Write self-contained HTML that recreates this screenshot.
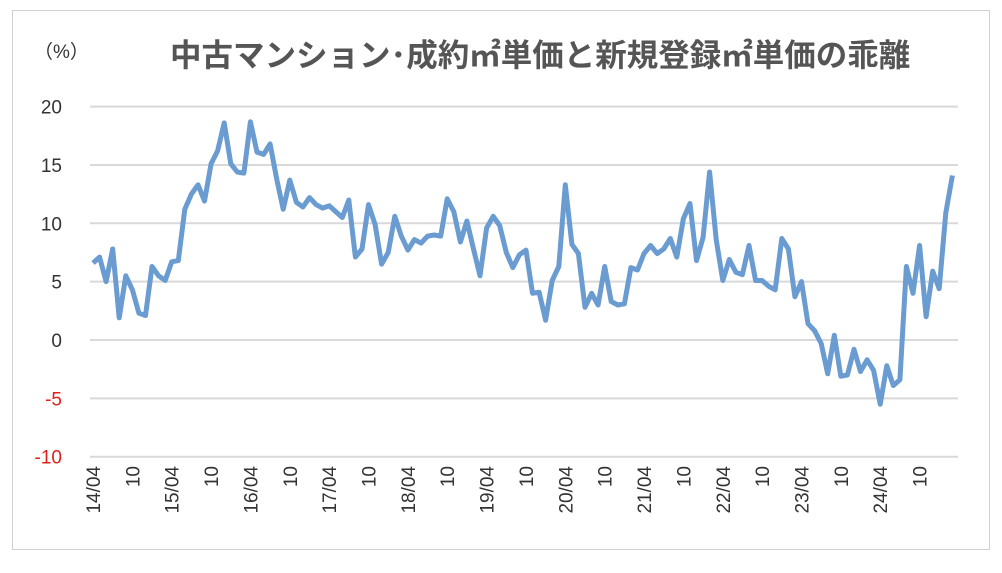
<!DOCTYPE html>
<html><head><meta charset="utf-8">
<style>
html,body{margin:0;padding:0;background:#fff;}
body{width:1002px;height:568px;overflow:hidden;position:relative;font-family:"Liberation Sans","Noto Sans CJK JP",sans-serif;}
</style></head>
<body>
<svg id="chart" width="1002" height="568" xmlns="http://www.w3.org/2000/svg">
<rect x="12.5" y="10.5" width="977" height="539" fill="#fff" stroke="#d0d0d0" stroke-width="1"/>
<text x="34" y="58" font-size="19" fill="#333" font-family="Liberation Sans, Noto Sans CJK JP, sans-serif">（%）</text>
<text x="170" y="66" font-size="31.5" font-weight="bold" fill="#555" font-family="Liberation Sans, Noto Sans CJK JP, sans-serif">中古マンション･成約㎡単価と新規登録㎡単価の乖離</text>
<g id="grid"></g><g id="yticks"></g><g id="xticks"></g><g id="series"></g>
</svg>
<script>
const values = [6.6,7.1,5.0,7.8,1.9,5.5,4.3,2.3,2.1,6.3,5.5,5.1,6.7,6.8,11.2,12.5,13.3,11.9,15.1,16.2,18.6,15.1,14.4,14.3,18.7,16.1,15.9,16.8,13.8,11.2,13.7,11.8,11.4,12.2,11.6,11.3,11.5,11.0,10.5,12.0,7.1,7.8,11.6,9.9,6.5,7.5,10.6,8.9,7.7,8.6,8.3,8.9,9.0,8.9,12.1,11.0,8.4,10.2,7.8,5.5,9.6,10.6,9.8,7.5,6.2,7.3,7.7,4.0,4.1,1.7,5.1,6.3,13.3,8.2,7.4,2.8,4.0,3.0,6.3,3.3,3.0,3.1,6.2,6.0,7.4,8.1,7.4,7.8,8.7,7.1,10.4,11.7,6.8,8.8,14.4,8.6,5.1,6.9,5.8,5.6,8.1,5.1,5.1,4.6,4.3,8.7,7.8,3.7,5.0,1.4,0.8,-0.3,-2.9,0.4,-3.1,-3.0,-0.8,-2.7,-1.7,-2.6,-5.5,-2.2,-3.9,-3.4,6.3,4.0,8.1,2.0,5.9,4.4,10.9,14.1];
const yTicks = [20,15,10,5,0,-5,-10];
const xTickLabels = ["14/04","10","15/04","10","16/04","10","17/04","10","18/04","10","19/04","10","20/04","10","21/04","10","22/04","10","23/04","10","24/04","10"];
const xTickIndex = [0,6,12,18,24,30,36,42,48,54,60,66,72,78,84,90,96,102,108,114,120,126];

const NS="http://www.w3.org/2000/svg";
const step = 6.56, x0 = 93;
function xScale(i){return x0 + i*step;}
function yScale(v){return 340 - v*11.67;}
const grid=document.getElementById('grid'), yt=document.getElementById('yticks'), xt=document.getElementById('xticks'), ser=document.getElementById('series');
yTicks.forEach(v=>{
  const l=document.createElementNS(NS,'line');
  
  
  l.setAttribute('x1',90);l.setAttribute('x2',958);
  l.setAttribute('y1',yScale(v));l.setAttribute('y2',yScale(v));
  l.setAttribute('stroke','#d9d9d9');l.setAttribute('stroke-width','2');
  grid.appendChild(l);
  const t=document.createElementNS(NS,'text');
  
  
  t.setAttribute('x',62);t.setAttribute('y',yScale(v)+7);
  t.setAttribute('text-anchor','end');t.setAttribute('font-size','19');
  t.setAttribute('fill',v<0?'#e0201b':'#333');
  t.textContent=v;
  yt.appendChild(t);
});
xTickLabels.forEach((s,k)=>{
  const x=xScale(xTickIndex[k]);
  const t=document.createElementNS(NS,'text');
  
  
  t.setAttribute('transform','translate('+(x+7)+',466) rotate(-90)');
  t.setAttribute('text-anchor','end');t.setAttribute('font-size','19');t.setAttribute('fill','#333');
  t.textContent=s;
  xt.appendChild(t);
});
const p=document.createElementNS(NS,'polyline');


p.setAttribute('points',values.map((v,i)=>xScale(i).toFixed(1)+','+yScale(v).toFixed(1)).join(' '));
p.setAttribute('fill','none');p.setAttribute('stroke','#6a9bd1');p.setAttribute('stroke-width','5');p.setAttribute('stroke-linejoin','round');
ser.appendChild(p);
</script>
</body></html>
